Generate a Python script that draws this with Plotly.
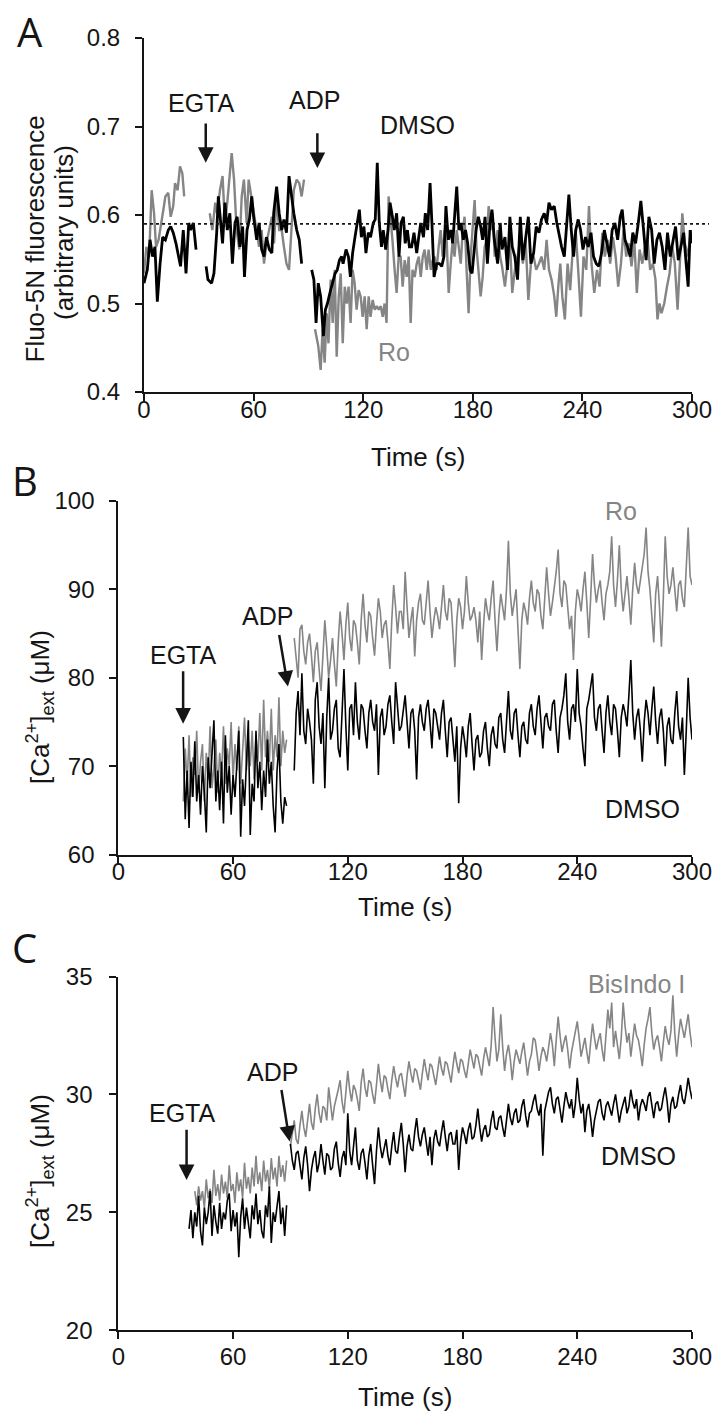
import plotly.graph_objects as go

# ---------------- Panel A (Fluo-5N fluorescence) ----------------
A_dmso_t = [0, 1.8, 3.3, 4.7, 6, 7.3, 8.8, 10.2, 11.7, 13.3, 14.6, 16, 17.5, 19, 20, 21.5, 23, 24.5, 25.5, 27, 28.5, 31,
            34, 35, 37, 38.3, 39.8, 40.7, 42, 43, 44.3, 45.6, 47, 48.4, 49.8, 51, 52.5, 54, 55, 56.4, 57.7, 59, 60, 61.7, 63,
            64.4, 65.7, 67, 68.6, 70, 71, 72.6, 74, 75.4, 76.6, 78, 79.4, 80.7, 82, 83.6, 85, 86.3, 89,
            91.8, 93, 94.2, 95.4, 96.7, 98.2, 99.3, 100.4, 101.8, 103, 104.6, 105.8, 107, 108.2, 109, 110.6, 111.9, 113,
            114.2, 115.5, 116.8, 117.9, 119, 120.4, 121.5, 122.8, 124, 125.5, 126.6, 127.7, 128.8, 130, 131, 132.3, 133.6,
            134.7, 136, 137, 138.3, 139.6, 140.7, 142, 143, 144.2, 145.3, 146.5, 147.8, 149.3, 150.4, 151.5, 153, 154,
            155.3, 156.6, 157.7, 158.8, 160.2, 161.7, 163, 164.2, 165.3, 166.6, 167.9, 169, 170.3, 171.2, 172.4, 173.5,
            174.8, 176, 177.2, 178.5, 179.6, 180.7, 181.8, 183, 184.3, 185.4, 186.7, 188, 189.4, 190.5, 191.8,
            193.6, 195, 196, 197.6, 199, 200.3, 201.6, 203, 204.5, 206, 207.4, 208.9, 210.4, 211.8, 213.3, 214.7, 216.2,
            217.6, 219.1, 220.4, 221.7, 223.1, 224.6, 226, 227.5, 228.6, 230.1, 231.3, 232.6, 233.9, 235.2, 236.4, 237.7,
            239, 240.3, 241.7, 243.2, 244.7, 246.1, 247.6, 249, 250.5, 252, 253.4, 254.9, 256.3, 257.8, 259.3, 260.7,
            261.8, 263.3, 264.7, 266.2, 267.6, 269.1, 270.6, 272, 273.5, 274.9, 276.4, 277.9, 279.3, 280.8, 282.2, 283.7,
            285.2, 286.6, 288.1, 289.5, 291, 292.5, 293.9, 295.4, 296.8, 297.9, 299, 299.8]
A_dmso_v = [.523, .538, .572, .553, .564, .502, .545, .575, .572, .583, .587, .580, .568, .553, .542, .583, .534, .591, .583, .591, .561, None,
            .542, .527, .523, .534, .580, .621, .591, .568, .614, .583, .602, .545, .591, .598, .564, .587, .530, .583, .595, .621, .598, .572, .591,
            .561, .553, .575, .561, .557, .602, .632, .602, .583, .595, .580, .644, .621, .602, .583, .572, .545, None,
            .538, .527, .478, .523, .508, .463, .493, .500, .512, .523, .534, .538, .549, .553, .545, .561, .553, .530,
            .557, .575, .595, .606, .575, .587, .557, .580, .575, .591, .595, .659, .591, .564, .583, .561, .583,
            .614, .598, .583, .602, .553, .591, .598, .568, .583, .564, .564, .580, .557, .575, .591, .575, .602,
            .583, .636, .587, .530, .545, .545, .542, .553, .610, .572, .583, .568, .606, .632, .583, .591,
            .572, .583, .568, .538, .534, .564, .583, .598, .587, .572, .598, .545, .591, .606, .572,
            .545, .591, .561, .575, .538, .598, .564, .553, .527, .598, .549, .572, .598, .545, .557, .587, .580,
            .595, .602, .591, .614, .606, .610, .591, .575, .564, .553, .583, .623, .583, .553, .583, .595,
            .583, .561, .575, .564, .580, .553, .545, .542, .557, .583, .568, .553, .583, .591, .572, .598,
            .606, .572, .564, .553, .580, .568, .591, .616, .583, .549, .598, .583, .545, .572, .580, .564,
            .538, .580, .553, .572, .587, .549, .564, .580, .545, .519, .583, .568]

A_ro_t = [0, 1.3, 2.8, 4.2, 5.5, 6.6, 8, 9.3, 10.6, 11.7, 13.3, 14.6, 16, 17, 18.4, 19.7, 21, 22, 29,
          36, 37.4, 39, 40, 41.6, 43, 44.3, 45.6, 47, 48, 49.3, 50.7, 52.2, 53.5, 54.7, 56.2, 57.3, 58.8, 60.2, 61.7, 63,
          64.4, 65.7, 67, 68.6, 70, 71.2, 72.6, 74, 75.4, 76.6, 78, 79.4, 80.8, 82, 83.6, 85, 86.3, 87.6, 90,
          93.6, 95.4, 96.7, 97.8, 98.9, 100, 101, 102.2, 103.3, 104.4, 105.5, 106.6, 107.7, 108.8, 109.9, 111, 112, 113.1,
          114.2, 115.3, 116.4, 117.5, 118.6, 119.7, 120.8, 121.9, 123, 124, 125.2, 126.3, 127.4, 128.5, 129.6, 130.7,
          131.7, 132.8, 133.9, 135, 136, 137.2, 138.3, 139.4, 140.5, 141.6, 142.7, 143.8, 144.9, 146, 147, 148.2, 149.3,
          150.4, 151.5, 152.6, 153.6, 154.8, 155.8, 157, 158, 159.1, 160.2, 161.3, 162.4, 163.5, 164.6, 165.7, 166.8,
          167.9, 169, 170, 171.2, 172.3, 173.4, 174.5, 175.5, 176.6, 177.7, 178.8, 180, 181, 182, 183.2, 184.3, 185.4,
          186.5, 187.6, 188.7, 189.8, 190.9, 192,
          193.6, 195, 196, 197.6, 199, 200.3, 201.6, 203, 204.5, 206, 207.4, 208.9, 210.4, 211.8, 213.3, 214.7, 216.2,
          217.6, 219.1, 220.4, 221.7, 223.1, 224.6, 225.7, 226.8, 227.9, 229, 230.4, 231.9, 233.3, 234.8, 236.3, 237.7,
          239.2, 240.6, 242.1, 243.6, 245, 246.5, 248, 249.4, 250.9, 252.3, 253.8, 255.2, 256.7, 258.2, 259.6, 261.1,
          262.5, 264, 265.5, 266.9, 268.4, 269.8, 271.3, 272.8, 274.2, 275.7, 277.1, 278.6, 280, 281.1, 282.2, 283.3,
          284.8, 286.3, 287.7, 289.2, 290.6, 292.1, 293.6, 294.7, 296.1, 297.6, 299, 300]
A_ro_v = [.534, .564, .553, .628, .602, .564, .572, .587, .606, .621, .625, .598, .610, .636, .628, .655, .647, .621, None,
          .602, .583, .614, .602, .628, .644, .591, .614, .647, .670, .640, .583, .561, .621, .640, .591, .640, .621, .598, .583, .564,
          .583, .545, .568, .583, .598, .568, .621, .583, .583, .564, .545, .538, .583, .628, .640, .636, .621, .640, None,
          .471, .452, .425, .471, .433, .489, .455, .527, .478, .538, .440, .508, .534, .455, .519, .500, .519, .478,
          .538, .523, .493, .515, .508, .485, .508, .471, .508, .485, .504, .493, .497, .493, .497, .485,
          .500, .478, .621, .598, .572, .538, .512, .553, .553, .519, .549, .530, .553, .478, .538, .530, .545,
          .553, .530, .553, .561, .538, .561, .538, .549, .553, .538, .564, .583, .553, .583, .572, .512,
          .545, .572, .553, .583, .564, .545, .583, .598, .538, .489, .553, .583, .617, .564, .538, .508, .530,
          .564, .572, .610, .583, .602, .553,
          .583, .553, .542, .519, .545, .572, .512, .538, .553, .572, .545, .572, .504, .545, .553, .538, .545,
          .553, .538, .572, .538, .527, .508, .485, .519, .545, .508, .482, .545, .515, .564, .583, .538,
          .485, .553, .538, .610, .545, .512, .538, .519, .580, .553, .572, .545, .575, .553, .519, .545,
          .583, .553, .568, .542, .572, .512, .561, .545, .564, .572, .538, .545, .527, .482, .500, .489,
          .500, .519, .534, .564, .545, .493, .561, .602, .568, .553, .575, .583]

A_baseline = 0.59

# ---------------- Panel B ([Ca2+]ext, Ro vs DMSO) ----------------
B_pre_t = list(range(34, 89))
B_dmso_pre = [73.3, 64.0, 69.5, 63.0, 70.5, 66.5, 72.8, 66.0, 69.0, 64.5, 70.0, 67.0, 62.5, 71.0, 67.5, 72.0, 75.2, 66.0,
              69.5, 65.0, 70.5, 63.5, 73.5, 67.0, 70.0, 64.5, 69.0, 66.5, 71.0, 74.0, 62.0, 68.5, 65.5, 71.5, 75.2, 62.2,
              68.0, 66.0, 74.0, 67.5, 70.5, 65.0, 69.5, 66.5, 73.0, 68.0, 70.5, 65.5, 62.5, 69.5, 72.5, 66.0, 63.5, 66.5, 65.5]
B_ro_pre = [66.0, 72.0, 68.0, 73.5, 66.5, 71.0, 69.0, 74.0, 67.0, 70.5, 72.5, 66.0, 71.5, 68.5, 74.5, 67.5, 70.0, 73.0,
            67.0, 71.5, 69.0, 74.5, 68.0, 72.0, 70.0, 75.0, 68.5, 72.5, 69.5, 74.5, 68.0, 71.5, 75.5, 69.5, 73.0, 70.0,
            74.0, 68.5, 73.5, 70.5, 76.0, 69.5, 77.5, 71.0, 74.0, 70.5, 76.5, 69.5, 73.5, 71.0, 77.8, 70.0, 74.0, 71.5, 73.0]
B_post_t = list(range(92, 301))
B_dmso_post = [69.5, 76.0, 78.5, 73.5, 80.5, 74.0, 72.5, 76.5, 75.0, 73.0,
               68.0, 77.5, 79.5, 74.5, 72.5, 76.0, 67.5, 75.5, 80.0, 73.0,
               74.0, 76.5, 77.5, 72.0, 71.0, 76.0, 81.0, 74.5, 69.5, 76.5,
               77.0, 73.5, 79.5, 75.0, 73.0, 77.0, 76.5, 74.0, 72.0, 76.0,
               77.5, 75.0, 74.0, 77.0, 69.0, 75.5, 76.5, 73.5, 74.5, 77.0,
               78.0, 75.0, 72.5, 79.5, 77.0, 74.0, 74.5, 76.5, 78.0, 75.0,
               72.0, 76.0, 76.5, 74.0, 68.5, 75.5, 77.0, 75.0, 74.0, 76.5,
               77.5, 75.0, 72.0, 76.5, 76.0, 74.5, 73.0, 76.0, 77.5, 74.0,
               71.0, 75.0, 75.5, 73.0, 70.5, 74.5, 65.8, 72.0, 74.5, 73.0,
               71.0, 74.5, 76.0, 72.5, 69.5, 73.0, 73.5, 71.0, 71.5, 74.0,
               75.0, 72.0, 70.0, 73.5, 74.5, 72.5, 72.0, 75.5, 76.0, 73.0,
               71.5, 75.0, 78.5, 74.0, 73.0, 76.0, 76.5, 73.5, 71.0, 74.5,
               75.0, 73.0, 72.5, 76.0, 77.0, 74.5, 73.5, 76.5, 78.0, 75.0,
               72.0, 75.5, 76.0, 74.5, 74.0, 77.0, 77.5, 74.0, 71.5, 75.5,
               76.5, 78.0, 80.5, 75.0, 73.0, 76.5, 77.0, 75.0, 81.0, 76.0,
               74.5, 72.0, 70.0, 76.5, 77.5, 79.0, 80.5, 75.5, 74.0, 76.5,
               77.0, 74.0, 71.5, 76.0, 78.0, 75.0, 73.5, 77.0, 76.5, 74.0,
               71.0, 75.5, 77.0, 76.0, 74.5, 78.0, 82.0, 76.0, 73.0, 75.5,
               76.5, 74.0, 70.5, 75.0, 77.5, 76.0, 73.5, 76.5, 79.0, 75.0,
               72.5, 75.5, 76.5, 74.0, 70.0, 74.5, 75.5, 73.0, 72.5, 76.0,
               78.5, 74.5, 73.0, 75.5, 69.0, 74.0, 80.0, 75.5, 73.0]
B_ro_post = [84.5, 82.0, 80.0, 85.5, 86.0, 83.0, 81.5, 84.0, 85.0, 82.5,
             79.5, 83.0, 84.0, 81.0, 78.5, 82.5, 86.5, 83.5, 80.0, 82.0,
             84.5, 81.5, 79.0, 84.0, 87.5, 85.0, 82.0, 86.0, 88.5, 84.5,
             83.0, 86.5, 86.0, 84.0, 81.5, 86.5, 89.5, 86.0, 84.0, 87.5,
             87.0, 84.5, 82.5, 86.0, 89.0, 87.5, 84.5, 86.0, 86.5, 84.0,
             81.0, 86.5, 90.5, 88.0, 85.0, 87.5, 87.5, 85.5, 92.0, 88.0,
             84.5, 86.5, 88.0, 82.4, 86.5, 88.5, 89.5, 86.5, 86.0, 88.5,
             91.0, 87.5, 84.5, 86.5, 88.0, 87.0, 85.5, 88.0, 90.5, 87.5,
             86.5, 89.0, 88.5, 85.0, 81.2, 86.5, 89.0, 88.0, 85.5, 87.5,
             91.5, 88.5, 86.5, 87.0, 88.0, 86.5, 84.0, 87.5, 82.0, 86.0,
             89.0, 87.5, 86.5, 89.0, 91.0, 86.5, 83.0, 87.0, 89.5, 88.0,
             86.5, 90.0, 95.5, 89.5, 87.0, 88.5, 90.0, 85.5, 81.0, 86.5,
             88.5, 87.5, 86.0, 89.0, 91.0, 88.5, 87.5, 90.0, 89.5, 87.0,
             85.5, 89.0, 92.5, 89.5, 87.0, 88.5, 90.0, 92.0, 94.5, 89.5,
             88.0, 91.0, 90.5, 87.5, 85.5, 87.0, 82.0, 87.5, 90.0, 89.0,
             87.5, 90.0, 92.0, 88.5, 84.5, 89.0, 94.0, 90.5, 88.5, 90.0,
             91.0, 88.5, 86.5, 89.5, 90.5, 92.0, 96.0, 90.5, 88.0, 91.0,
             95.0, 90.0, 87.5, 89.5, 91.5, 89.0, 86.0, 90.0, 93.0, 90.5,
             89.5, 91.0, 92.5, 94.0, 97.0, 92.0, 90.0, 86.5, 84.0, 89.5,
             91.5, 88.0, 83.5, 89.0, 96.0, 91.5, 89.5, 90.5, 92.5, 90.0,
             87.5, 90.5, 91.0, 89.0, 88.0, 92.5, 97.0, 91.5, 90.5]

# ---------------- Panel C ([Ca2+]ext, BisIndo I vs DMSO) ----------------
C_dmso_pre_t = list(range(37, 89))
C_dmso_pre = [24.3, 25.1, 23.9, 25.0, 24.4, 25.7, 24.2, 23.6, 25.2, 24.5, 25.0, 25.9, 24.0, 25.3, 24.6, 24.1, 25.4, 24.3,
              25.0, 24.7, 25.5, 25.8, 24.2, 25.1, 24.4, 25.0, 23.1, 24.8, 25.6, 24.3, 25.2, 24.6, 23.9, 25.3, 24.7, 25.8,
              24.5, 25.1, 24.2, 23.9, 25.3, 24.8, 26.1, 23.7, 25.0, 24.6, 25.4, 25.9, 24.5, 25.2, 24.0, 25.3]
C_bis_pre_t = list(range(40, 89))
C_bis_pre = [25.9, 25.3, 26.1, 25.5, 25.9, 25.2, 26.4, 25.6, 26.0, 25.4, 26.8, 25.7, 26.2, 25.5, 26.6, 25.8, 26.3, 25.6,
             27.0, 25.9, 26.2, 25.4, 26.7, 25.9, 26.4, 25.6, 27.1, 26.0, 26.5, 25.8, 26.9, 26.1, 27.4, 26.2, 26.7, 25.9,
             27.2, 26.3, 26.8, 26.0, 27.3, 26.4, 26.9, 26.1, 27.4, 26.5, 27.0, 26.3, 27.2]
C_post_t = list(range(90, 301))
C_dmso_post = [27.9, 27.2, 26.8, 27.5, 27.6, 26.9, 26.4, 27.3, 27.8, 27.0,
               25.9, 26.8, 27.3, 27.6, 26.7, 27.1, 27.9, 27.2, 26.6, 27.5,
               27.4, 26.8, 26.9, 27.7, 28.0, 27.1, 26.5, 27.3, 27.6, 27.0,
               29.2, 27.6, 27.0, 27.8, 28.6, 27.2, 26.8, 27.5, 27.7, 27.1,
               26.4, 27.4, 27.9, 27.0, 26.2, 27.6, 28.6, 27.8, 27.3, 27.7,
               28.1, 27.4, 27.0, 27.8, 28.4, 27.6, 27.5, 28.2, 28.8, 27.9,
               26.7, 27.8, 28.3, 27.7, 27.6, 28.4, 29.0, 28.2, 27.8, 28.3,
               28.6, 28.0, 27.4, 28.2, 27.0, 28.1, 28.5, 28.0, 27.8, 28.4,
               28.9, 28.2, 27.6, 28.3, 28.4, 27.9, 27.9, 28.5, 26.8, 28.0,
               28.6, 28.3, 27.9, 28.5, 28.8, 28.1, 28.2, 28.7, 29.4, 28.6,
               28.0, 28.5, 28.7, 28.2, 28.3, 28.9, 29.3, 28.6, 28.5, 29.0,
               29.1, 28.6, 28.2, 28.9, 29.6, 29.0, 28.7, 29.2, 29.4, 28.8,
               28.9, 29.5, 29.8, 29.1, 28.6, 29.2, 29.3, 29.7, 30.0, 29.4,
               29.1, 29.6, 27.4, 29.3, 29.7, 30.1, 30.3, 29.6, 29.2, 29.8,
               29.9, 29.3, 28.8, 29.5, 30.1, 29.7, 29.4, 29.8, 29.0, 29.6,
               30.7, 29.8, 29.2, 29.6, 28.4, 29.3, 29.6, 29.0, 28.2, 28.9,
               29.3, 29.7, 29.8, 29.2, 28.9, 29.5, 29.7, 29.4, 29.1, 29.6,
               30.0, 29.4, 28.8, 29.3, 29.6, 29.9, 29.2, 29.5, 30.2, 29.7,
               29.4, 29.8, 28.9, 29.5, 29.8, 29.6, 29.3, 29.9, 30.1, 29.5,
               29.0, 29.6, 29.7, 29.3, 29.4, 29.9, 30.3, 29.7, 28.8, 29.6,
               29.9, 29.4, 29.5, 30.0, 30.4, 29.8, 29.6, 30.1, 30.7, 30.2,
               29.8]
C_bis_post = [27.8, 28.4, 28.9, 28.1, 27.9, 28.7, 29.3, 28.6, 28.2, 28.9,
              29.6, 28.8, 28.5, 29.4, 30.0, 29.2, 28.8, 29.5, 29.4, 28.9,
              30.3, 29.6, 28.9, 29.5, 29.8, 30.2, 30.6, 29.7, 29.2, 30.1,
              31.0, 30.2, 29.7, 30.4, 30.2, 29.8, 29.3, 30.5, 31.1, 30.3,
              29.9, 30.6, 30.5, 30.0, 29.6, 30.4, 31.3, 30.6, 30.1, 30.8,
              30.7, 30.2, 29.8, 30.6, 31.2, 30.7, 30.3, 30.8, 30.9, 30.4,
              29.9, 30.8, 31.4, 30.9, 30.5, 31.1, 31.0, 30.6, 30.2, 30.9,
              31.5, 31.0, 30.6, 31.3, 31.2, 30.8, 30.4, 31.0, 31.6, 31.1,
              30.8, 31.4, 31.3, 30.9, 30.5, 31.2, 31.8, 31.3, 30.9, 31.5,
              31.4, 31.0, 30.7, 31.3, 31.9, 31.5, 31.1, 31.7, 31.6, 31.2,
              30.8, 31.5, 32.0, 31.6, 31.2, 32.1, 33.7, 32.4, 31.4, 31.9,
              33.4, 32.0, 31.0, 31.7, 32.1, 31.5, 30.6, 31.4, 31.9, 31.6,
              31.3, 31.8, 32.2, 31.5, 30.8, 31.4, 31.7, 32.4, 32.3, 31.7,
              31.0, 31.6, 32.0, 31.8, 31.4, 32.0, 32.6, 32.1, 31.2, 32.3,
              33.3, 32.5, 31.8, 32.2, 32.5, 31.9, 31.1, 31.8, 32.3, 32.7,
              33.1, 32.4, 31.6, 32.0, 32.4, 31.8, 31.3, 32.2, 33.0, 32.4,
              31.9, 32.3, 32.6, 31.9, 31.4, 32.5, 33.6, 32.8, 33.9, 32.0,
              32.7, 32.1, 31.5, 32.4, 33.9, 32.9, 32.2, 32.6, 31.6, 32.3,
              33.0, 32.5, 32.3, 31.8, 31.2, 32.1, 32.8, 33.2, 33.7, 32.6,
              31.9, 32.3, 32.5, 32.0, 31.4, 32.2, 32.9, 32.4, 32.1, 32.7,
              34.2, 32.6, 31.6, 32.5, 33.2, 32.8, 32.4, 32.9, 33.4, 32.6,
              32.0]

x_ticks = [0, 60, 120, 180, 240, 300]

# ---------------- Figure ----------------
W, H = 718, 1412
GRAY = "#858585"
INK = "#151515"
FONT = "Liberation Sans, Arial, sans-serif"


def px(x):
    return x / W


def py(y):
    return 1 - y / H


fig = go.Figure()


def add_pair(t_gray, v_gray, t_black, v_black, xa, ya, wg, wb):
    fig.add_trace(go.Scatter(x=t_gray, y=v_gray, mode="lines", line=dict(color=GRAY, width=wg),
                             xaxis=xa, yaxis=ya, showlegend=False, hoverinfo="skip"))
    fig.add_trace(go.Scatter(x=t_black, y=v_black, mode="lines", line=dict(color="#000000", width=wb),
                             xaxis=xa, yaxis=ya, showlegend=False, hoverinfo="skip"))


add_pair(A_ro_t, A_ro_v, A_dmso_t, A_dmso_v, "x", "y", 2.4, 2.8)

B_t = B_pre_t + [90] + B_post_t
add_pair(B_t, B_ro_pre + [None] + B_ro_post, B_t, B_dmso_pre + [None] + B_dmso_post, "x2", "y2", 1.6, 1.6)

add_pair(C_bis_pre_t + [89] + C_post_t, C_bis_pre + [None] + C_bis_post,
         C_dmso_pre_t + [89] + C_post_t, C_dmso_pre + [None] + C_dmso_post, "x3", "y3", 1.6, 1.6)

axis_common = dict(showline=True, linecolor=INK, linewidth=2, ticks="outside", ticklen=7, tickwidth=2,
                   tickcolor=INK, showgrid=False, zeroline=False, automargin=False,
                   tickfont=dict(family=FONT, size=24, color=INK))

xdomA = [px(144), px(692)]
xdomBC = [px(118.3), px(692)]
fig.update_layout(
    width=W, height=H, margin=dict(l=0, r=0, t=0, b=0),
    paper_bgcolor="white", plot_bgcolor="white",
    xaxis=dict(domain=xdomA, range=[0, 300], tickvals=x_ticks, anchor="y", ticklabelstandoff=-12, **axis_common),
    yaxis=dict(domain=[py(392), py(38)], range=[0.4, 0.8], dtick=0.1, tickformat=".1f", anchor="x",
               ticklabelstandoff=10, **axis_common),
    xaxis2=dict(domain=xdomBC, range=[0, 300], tickvals=x_ticks, anchor="y2", ticklabelstandoff=-12, **axis_common),
    yaxis2=dict(domain=[py(854.5), py(501)], range=[60, 100], dtick=10, anchor="x2",
                ticklabelstandoff=10, **axis_common),
    xaxis3=dict(domain=xdomBC, range=[0, 300], tickvals=x_ticks, anchor="y3", ticklabelstandoff=-3, **axis_common),
    yaxis3=dict(domain=[py(1330.3), py(976.5)], range=[20, 35], dtick=5, anchor="x3",
                ticklabelstandoff=12, **axis_common),
)

# dotted baseline in panel A
fig.add_shape(type="line", xref="paper", yref="y", x0=px(144), x1=px(709), y0=A_baseline, y1=A_baseline,
              line=dict(color=INK, width=1.6, dash="dot"))

ann = []


def text(x, y, s, xref, yref, size=25, color=INK, angle=0, family=FONT):
    ann.append(dict(x=x, y=y, xref=xref, yref=yref, text=s, showarrow=False, textangle=angle,
                    xanchor="center", yanchor="middle", font=dict(family=family, size=size, color=color)))


def arrow(xt, yt, xs, ys, xref, yref):
    ann.append(dict(x=xt, y=yt, ax=xs, ay=ys, xref=xref, yref=yref, axref=xref, ayref=yref, text="",
                    showarrow=True, arrowhead=2, arrowsize=1.25, arrowwidth=2.5, arrowcolor=INK))


# panel letters
text(px(30), py(31), "A", "paper", "paper", size=40, family="Open Sans, sans-serif")
text(px(25), py(480), "B", "paper", "paper", size=40, family="Open Sans, sans-serif")
text(px(24), py(947.5), "C", "paper", "paper", size=40, family="Open Sans, sans-serif")

# axis titles
text(px(34.5), py(239), "Fluo-5N fluorescence", "paper", "paper", size=26, angle=-90)
text(px(64), py(233), "(arbitrary units)", "paper", "paper", size=26, angle=-90)
text(px(40), py(707), "[Ca<sup>2+</sup>]<sub>ext</sub> (μM)", "paper", "paper", size=26, angle=-90)
text(px(40), py(1171), "[Ca<sup>2+</sup>]<sub>ext</sub> (μM)", "paper", "paper", size=26, angle=-90)
text(px(418), py(457), "Time (s)", "paper", "paper", size=26)
text(px(405), py(907), "Time (s)", "paper", "paper", size=26)
text(px(405), py(1397), "Time (s)", "paper", "paper", size=26)

# panel A labels
text(31.6, 0.7266, "EGTA", "x", "y")
arrow(33.8, 0.659, 33.8, 0.705, "x", "y")
text(93.2, 0.730, "ADP", "x", "y")
arrow(94.9, 0.653, 94.9, 0.694, "x", "y")
text(149.5, 0.702, "DMSO", "x", "y")
text(136.8, 0.445, "Ro", "x", "y", color=GRAY)

# panel B labels
text(34.3, 82.6, "EGTA", "x2", "y2")
arrow(33.9, 74.8, 33.9, 80.9, "x2", "y2")
text(78.0, 87.0, "ADP", "x2", "y2")
arrow(88.7, 79.0, 84.0, 85.0, "x2", "y2")
text(262.8, 98.9, "Ro", "x2", "y2", color=GRAY)
text(274.2, 65.2, "DMSO", "x2", "y2")

# panel C labels
text(33.5, 29.2, "EGTA", "x3", "y3")
arrow(35.7, 26.37, 35.7, 28.57, "x3", "y3")
text(80.4, 30.95, "ADP", "x3", "y3")
arrow(89.6, 28.0, 85.2, 30.25, "x3", "y3")
text(271.0, 34.7, "BisIndo I", "x3", "y3", color=GRAY)
text(272.2, 27.4, "DMSO", "x3", "y3")

fig.update_layout(annotations=ann)

fig.write_html("out.html", config={"displayModeBar": False},
               post_script="document.body.style.margin='0px';document.body.style.overflow='hidden';")
